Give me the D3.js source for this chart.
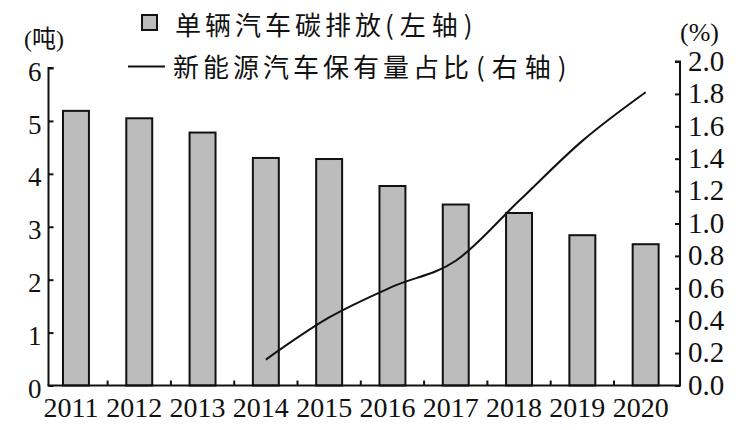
<!DOCTYPE html>
<html><head><meta charset="utf-8">
<script src="https://cdn.jsdelivr.net/npm/d3@7"></script>
<style>
html,body{margin:0;padding:0;background:#fff;}
svg{display:block;}
</style>
</head><body>
<svg id="c" width="752" height="430"></svg>
<script>
const years = ["2011","2012","2013","2014","2015","2016","2017","2018","2019","2020"];
const emission = [5.19, 5.05, 4.78, 4.30, 4.28, 3.77, 3.42, 3.26, 2.84, 2.67];
const nevYears = ["2014","2015","2016","2017","2018","2019","2020"];
const nevShare = [0.16, 0.42, 0.61, 0.77, 1.14, 1.51, 1.81];
const leftTicks = [0,1,2,3,4,5,6];
const rightTicks = [0,0.2,0.4,0.6,0.8,1.0,1.2,1.4,1.6,1.8,2.0];
const legendBar = ["单辆汽车碳排放", "(左轴)"];
const legendLine = ["新能源汽车保有量占比", "(右轴)"];
const leftUnit = "(吨)";
const rightUnit = "(%)";

const svg = d3.select("#c");
const serif = "'Liberation Serif','Times New Roman',serif";
const cjk = "'Noto Sans CJK SC','Noto Sans',sans-serif";

const axL = 48.5, axR = 680, base = 385.5;
const x = d3.scaleBand().domain(years).range([44.3, 677.3]).paddingInner(0.59).paddingOuter(0.295);
const yL = d3.scaleLinear().domain([0,6]).range([base, 68]);
const yR = d3.scaleLinear().domain([0,2]).range([base, 61.5]);

// bars
svg.append("g").selectAll("rect").data(years).join("rect")
  .attr("x", d => x(d))
  .attr("y", (d,i) => yL(emission[i]))
  .attr("width", x.bandwidth())
  .attr("height", (d,i) => base - yL(emission[i]))
  .attr("fill", "#bcbcbc")
  .attr("stroke", "#111")
  .attr("stroke-width", 2);

// line
const line = d3.line()
  .x((d,i) => x(nevYears[i]) + x.bandwidth()/2)
  .y(d => yR(d))
  .curve(d3.curveMonotoneX);
svg.append("path").datum(nevShare)
  .attr("d", line)
  .attr("fill", "none")
  .attr("stroke", "#111")
  .attr("stroke-width", 2);

// left axis
const gL = svg.append("g").attr("transform", `translate(${axL},0)`)
  .call(d3.axisLeft(yL).tickValues(leftTicks).tickFormat(d3.format("d")).tickSize(-5).tickPadding(7));
gL.select(".domain").attr("d", `M5,${yL(6)}H0V${base}`).attr("stroke","#111").attr("stroke-width",2);
gL.selectAll(".tick line").attr("stroke","#111").attr("stroke-width",2);
gL.selectAll(".tick text").attr("font-family", serif).attr("font-size", 27).attr("fill","#111").attr("dy","0.45em");

// right axis
const gR = svg.append("g").attr("transform", `translate(${axR},0)`)
  .call(d3.axisRight(yR).tickValues(rightTicks).tickFormat(d3.format(".1f")).tickSize(-5).tickPadding(8));
gR.select(".domain").attr("d", `M-5,${yR(2)}H0V${base}`).attr("stroke","#111").attr("stroke-width",2);
gR.selectAll(".tick line").attr("stroke","#111").attr("stroke-width",2);
gR.selectAll(".tick text").attr("font-family", serif).attr("font-size", 29).attr("fill","#111").attr("dy","0.3em");

// bottom axis
const gB = svg.append("g").attr("transform", `translate(0,${base})`)
  .call(d3.axisBottom(x).tickSize(0).tickPadding(12));
gB.select(".domain").attr("d", `M${axL-1},0H${axR+1}`).attr("stroke","#111").attr("stroke-width",2);
gB.selectAll(".tick text").attr("font-family", serif).attr("font-size", 28).attr("fill","#111").attr("dx", -5);
// boundary ticks between categories
svg.append("g").selectAll("line").data(years.slice(0, -1)).join("line")
  .attr("x1", d => x(d) + x.bandwidth()/2 + x.step()/2)
  .attr("x2", d => x(d) + x.bandwidth()/2 + x.step()/2)
  .attr("y1", base).attr("y2", base - 5)
  .attr("stroke", "#111").attr("stroke-width", 2);

// units
svg.append("text").attr("x", 24).attr("y", 47).attr("font-family", serif + ",'Noto Sans CJK SC'")
  .attr("font-size", 24).attr("fill","#111").text(leftUnit);
svg.append("text").attr("x", 680).attr("y", 41).attr("font-family", serif)
  .attr("font-size", 26).attr("fill","#111").text(rightUnit);

// legend
svg.append("rect").attr("x", 142).attr("y", 15).attr("width", 15).attr("height", 15)
  .attr("fill", "#bcbcbc").attr("stroke", "#111").attr("stroke-width", 2);
const t1 = svg.append("text").attr("x", 175).attr("y", 35).attr("font-family", cjk)
  .attr("font-size", 26).attr("fill","#111");
t1.append("tspan").attr("letter-spacing", 4).text(legendBar[0]);
t1.append("tspan").attr("letter-spacing", 6).text(legendBar[1]);
svg.append("line").attr("x1", 128).attr("x2", 165).attr("y1", 66.5).attr("y2", 66.5)
  .attr("stroke", "#111").attr("stroke-width", 2);
const t2 = svg.append("text").attr("x", 173).attr("y", 77).attr("font-family", cjk)
  .attr("font-size", 26).attr("fill","#111");
t2.append("tspan").attr("letter-spacing", 4).text(legendLine[0]);
t2.append("tspan").attr("letter-spacing", 7).attr("dx", 3).text(legendLine[1]);
</script>
</body></html>
